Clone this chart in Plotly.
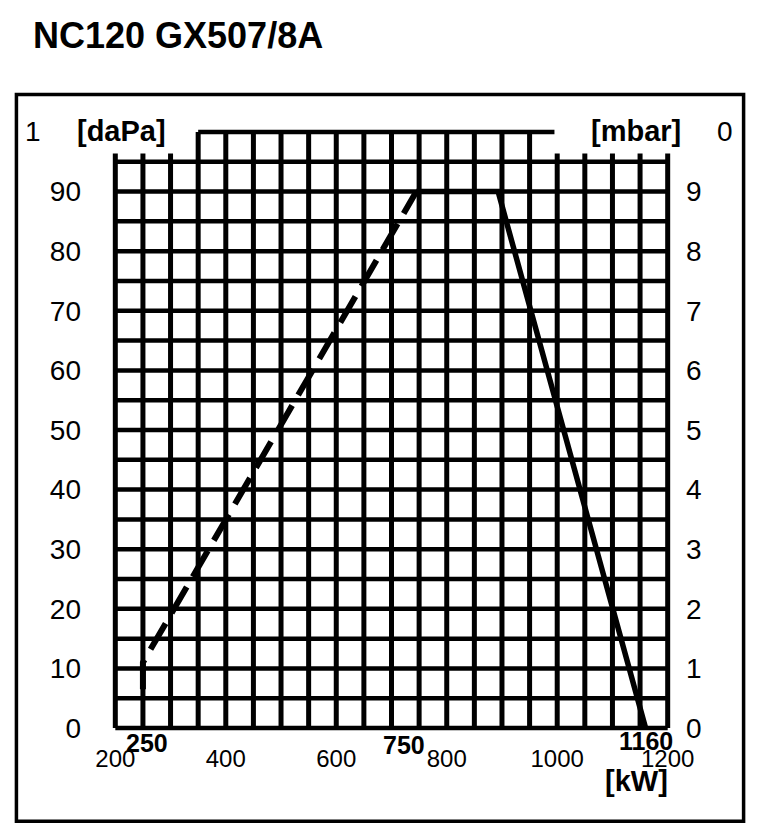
import plotly.graph_objects as go

# ---- data ----
kw_ticks = [200, 400, 600, 800, 1000, 1200]
dapa_ticks = [0, 10, 20, 30, 40, 50, 60, 70, 80, 90]
mbar_ticks = [0, 1, 2, 3, 4, 5, 6, 7, 8, 9]
grid_kw = list(range(200, 1201, 50))
grid_dapa = list(range(0, 96, 5))
top_bar_kw = [350, 995]
top_bar_dapa = 100
tall_kw_min, tall_kw_max = 350, 950
grid_top_short = 96.4
marked_kw = [250, 750, 1160]
solid_kw = [745, 893, 1160]
solid_dapa = [90, 90, 0]
dash_kw = [250, 250, 745]
dash_dapa = [6.5, 11, 90]

# ---- geometry (page pixels; page has an 8px body offset) ----
OFF = 8
W_FIG, H_FIG = 772 - OFF, 834 - OFF
XR = [194, 1206]
YR = [-1, 101]
PLOT_L, PLOT_T = 111.68, 126.48          # page px of plot area
PW, PH = 559.64, 607.47
PLOT_B = PLOT_T + PH
L = PLOT_L - OFF
T = PLOT_T - OFF
R = W_FIG - L - PW
B = H_FIG - T - PH


def px(xp):
    return (xp - PLOT_L) / PW


def py(yp):
    return (PLOT_B - yp) / PH


FONT = "Liberation Sans, Arial, sans-serif"

fig = go.Figure()

# grid as line traces
gx, gy = [], []
for k in grid_kw:
    top = top_bar_dapa if tall_kw_min <= k <= tall_kw_max else grid_top_short
    gx += [k, k, None]
    gy += [0, top, None]
fig.add_trace(go.Scatter(x=gx, y=gy, mode="lines", line=dict(color="black", width=5),
                         hoverinfo="skip", showlegend=False))
hx, hy = [], []
for v in grid_dapa:
    hx += [grid_kw[0], grid_kw[-1], None]
    hy += [v, v, None]
hx += [top_bar_kw[0], top_bar_kw[1], None]
hy += [top_bar_dapa, top_bar_dapa, None]
fig.add_trace(go.Scatter(x=hx, y=hy, mode="lines", line=dict(color="black", width=4.5),
                         hoverinfo="skip", showlegend=False))

# curves
fig.add_trace(go.Scatter(x=dash_kw, y=dash_dapa, mode="lines",
                         line=dict(color="black", width=6, dash="30px,12px"),
                         showlegend=False))
fig.add_trace(go.Scatter(x=solid_kw, y=solid_dapa, mode="lines",
                         line=dict(color="black", width=5.5),
                         showlegend=False))
# secondary axis carrier
fig.add_trace(go.Scatter(x=[None], y=[None], yaxis="y2", showlegend=False))

ann = []
for k in marked_kw:
    shift = {250: 4, 750: -15, 1160: 0}[k]
    ypos = {250: 743, 750: 745, 1160: 741}[k]
    ann.append(dict(x=k, xref="x", y=py(ypos), yref="paper", text="<b>%d</b>" % k,
                    showarrow=False, xshift=shift, font=dict(family=FONT, size=25, color="black"),
                    xanchor="center", yanchor="middle"))
ann.append(dict(x=px(637), xref="paper", y=py(781), yref="paper", text="<b>[kW]</b>",
                showarrow=False, font=dict(family=FONT, size=29, color="black"),
                xanchor="center", yanchor="middle"))
ann.append(dict(x=px(121), xref="paper", y=py(131), yref="paper", text="<b>[daPa]</b>",
                showarrow=False, font=dict(family=FONT, size=29, color="black"),
                xanchor="center", yanchor="middle"))
ann.append(dict(x=px(636), xref="paper", y=py(131), yref="paper", text="<b>[mbar]</b>",
                showarrow=False, font=dict(family=FONT, size=29, color="black"),
                xanchor="center", yanchor="middle"))
ann.append(dict(x=px(33), xref="paper", y=py(132), yref="paper", text="1",
                showarrow=False, font=dict(family=FONT, size=28, color="black"),
                xanchor="center", yanchor="middle"))
ann.append(dict(x=px(725), xref="paper", y=py(132), yref="paper", text="0",
                showarrow=False, font=dict(family=FONT, size=28, color="black"),
                xanchor="center", yanchor="middle"))
ann.append(dict(x=px(31), xref="paper", y=py(36), yref="paper", text="<b>NC120 GX507/8A</b>",
                showarrow=False, font=dict(family=FONT, size=36, color="black"),
                xanchor="left", yanchor="middle"))

shapes = [dict(type="rect", xref="paper", yref="paper",
               x0=px(16), x1=px(744), y0=py(821), y1=py(95),
               line=dict(color="black", width=3.5), fillcolor="rgba(0,0,0,0)")]

fig.update_layout(
    width=W_FIG, height=H_FIG,
    margin=dict(l=L, r=R, t=T, b=B, autoexpand=False),
    paper_bgcolor="white", plot_bgcolor="white",
    annotations=ann, shapes=shapes,
    xaxis=dict(range=XR, tickvals=kw_ticks, showgrid=False, zeroline=False, showline=False,
               ticks="", tickfont=dict(family=FONT, size=24, color="black"),
               ticklabelstandoff=8),
    yaxis=dict(range=YR, tickvals=dapa_ticks, showgrid=False, zeroline=False, showline=False,
               ticks="", tickfont=dict(family=FONT, size=28, color="black"),
               ticklabelstandoff=30),
    yaxis2=dict(range=[YR[0] / 10, YR[1] / 10], tickvals=mbar_ticks, overlaying="y", side="right",
                showgrid=False, zeroline=False, showline=False, ticks="",
                tickfont=dict(family=FONT, size=28, color="black"), ticklabelstandoff=14),
)

fig.write_html("out.html")
